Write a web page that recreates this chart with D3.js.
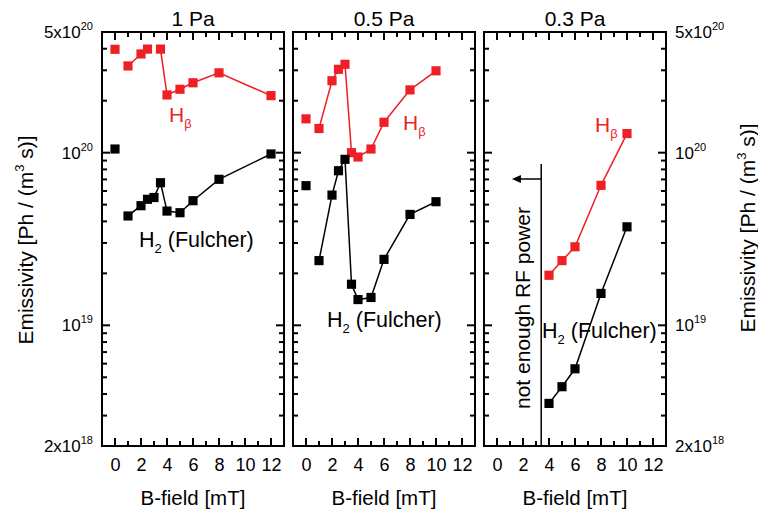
<!DOCTYPE html>
<html><head><meta charset="utf-8">
<script src="https://cdn.jsdelivr.net/npm/d3@7"></script>
<style>
body{margin:0;background:#fff}
svg text{font-family:"Liberation Sans",Arial,Helvetica,sans-serif;fill:#000}
</style>
</head><body>
<svg id="chart" width="758" height="515"></svg>
<script>
// ---- data ----
const panelTitles = ["1 Pa", "0.5 Pa", "0.3 Pa"];

const bField1 = [0, 1, 2, 2.5, 3, 3.5, 4, 5, 6, 8, 12];
const hBeta1  = [3.97e20, 3.18e20, 3.73e20, 3.98e20, null, 3.98e20, 2.16e20, 2.33e20, 2.54e20, 2.90e20, 2.14e20];
const h2Ful1  = [1.05e20, 4.30e19, 4.93e19, 5.37e19, 5.50e19, 6.70e19, 4.59e19, 4.49e19, 5.27e19, 7.01e19, 9.83e19];

const bField2 = [0, 1, 2, 2.5, 3, 3.5, 4, 5, 6, 8, 10];
const hBeta2  = [1.57e20, 1.38e20, 2.61e20, 3.04e20, 3.25e20, 1.00e20, 9.44e19, 1.05e20, 1.50e20, 2.31e20, 2.98e20];
const h2Ful2  = [6.44e19, 2.37e19, 5.68e19, 7.86e19, 9.15e19, 1.73e19, 1.41e19, 1.45e19, 2.41e19, 4.39e19, 5.20e19];

const bField3 = [4, 5, 6, 8, 10];
const hBeta3  = [1.95e19, 2.37e19, 2.85e19, 6.47e19, 1.29e20];
const h2Ful3  = [3.53e18, 4.41e18, 5.60e18, 1.53e19, 3.72e19];

const xTickValues = [0, 2, 4, 6, 8, 10, 12];
const yTickValues = [5e20, 1e20, 1e19, 2e18];
const yTickMantissa = ["5x10", "10", "10", "2x10"];
const yTickExponent = ["20", "20", "19", "18"];

const rfLimitB = 3.4;      // "not enough RF power" boundary (mT)
const rfArrowTipB = 1.15;

// ---- layout ----
const RED = "#ee1f25";
const svg = d3.select("#chart");
const panelLeft = [102, 293, 484];
const panelW = 182, plotTop = 32, plotBottom = 446;

const y = d3.scaleLog().domain([2e18, 5e20]).range([plotBottom, plotTop]);

const series = [
  {b: bField1, hb: hBeta1, h2: h2Ful1},
  {b: bField2, hb: hBeta2, h2: h2Ful2},
  {b: bField3, hb: hBeta3, h2: h2Ful3}
];

const yMajor = [1e19, 1e20];
const yMinor = [];
[1e18, 1e19, 1e20].forEach(dec => {
  for (let k = 2; k <= 9; k++) { const v = k * dec; if (v > 2e18 && v < 5e20) yMinor.push(v); }
});
const xMinor = d3.range(0, 13).filter(v => v % 2 === 1);

const hbLabelPos = [[169, 122], [403, 130], [595, 132]];
const h2LabelPos = [[139, 247], [327, 327], [542, 338]];

const MAJ = 8, MIN = 5, TW = 2;

series.forEach((s, i) => {
  const left = panelLeft[i], right = left + panelW;
  const x = d3.scaleLinear().domain([-1, 13]).range([left, right]);
  const g = svg.append("g");

  g.append("g").attr("transform", `translate(0,${plotBottom})`)
    .call(d3.axisBottom(x).tickValues(xTickValues).tickSize(0).tickPadding(12).tickFormat(d3.format("d")))
    .call(a => { a.select(".domain").remove(); a.selectAll("line").remove(); })
    .call(a => a.selectAll("text").attr("font-size", 18).style("font-family", "Liberation Sans, Arial, sans-serif"));

  g.append("rect").attr("x", left).attr("y", plotTop).attr("width", panelW).attr("height", plotBottom - plotTop)
    .attr("fill", "none").attr("stroke", "#000").attr("stroke-width", 2);

  // inward ticks on all four sides, drawn as small filled bars
  const xt = xTickValues.map(v => ({v, L: MAJ})).concat(xMinor.map(v => ({v, L: MIN})));
  const yt = yMajor.map(v => ({v, L: MAJ})).concat(yMinor.map(v => ({v, L: MIN})));
  const tg = g.append("g").attr("fill", "#000");
  tg.selectAll(null).data(xt).join("rect")
    .attr("x", d => x(d.v) - TW / 2).attr("y", d => plotBottom - d.L).attr("width", TW).attr("height", d => d.L);
  tg.selectAll(null).data(xt).join("rect")
    .attr("x", d => x(d.v) - TW / 2).attr("y", plotTop).attr("width", TW).attr("height", d => d.L);
  tg.selectAll(null).data(yt).join("rect")
    .attr("x", left).attr("y", d => y(d.v) - TW / 2).attr("width", d => d.L).attr("height", TW);
  tg.selectAll(null).data(yt).join("rect")
    .attr("x", d => right - d.L).attr("y", d => y(d.v) - TW / 2).attr("width", d => d.L).attr("height", TW);

  g.append("text").attr("x", left + panelW / 2).attr("y", 26).attr("text-anchor", "middle")
    .attr("font-size", 21).text(panelTitles[i]);
  g.append("text").attr("x", left + panelW / 2).attr("y", 505).attr("text-anchor", "middle")
    .attr("font-size", 20.5).text("B-field [mT]");

  const pts = (vals) => s.b.map((b, j) => ({b, v: vals[j]}));
  const line = d3.line().defined(d => d.v != null && d.b > 0).x(d => x(d.b)).y(d => y(d.v));
  const sym = d3.symbol(d3.symbolSquare, 84);
  [[s.hb, RED], [s.h2, "#000"]].forEach(([vals, color]) => {
    const data = pts(vals);
    g.append("path").attr("d", line(data)).attr("fill", "none").attr("stroke", color).attr("stroke-width", 1.5);
    g.selectAll(null).data(data.filter(d => d.v != null)).join("path")
      .attr("transform", d => `translate(${x(d.b)},${y(d.v)})`)
      .attr("d", sym).attr("fill", color);
  });

  const hb = g.append("text").attr("x", hbLabelPos[i][0]).attr("y", hbLabelPos[i][1])
    .attr("font-size", 21).style("fill", RED);
  hb.append("tspan").text("H");
  hb.append("tspan").attr("font-size", 13).attr("dy", 6).text("β");
  const h2 = g.append("text").attr("x", h2LabelPos[i][0]).attr("y", h2LabelPos[i][1]).attr("font-size", 21.5);
  h2.append("tspan").text("H");
  h2.append("tspan").attr("font-size", 13).attr("dy", 6).text("2");
  h2.append("tspan").attr("dy", -6).text(" (Fulcher)");

  if (i === 2) {
    const xl = x(rfLimitB), ay = 179, tip = x(rfArrowTipB);
    g.append("line").attr("x1", xl).attr("x2", xl).attr("y1", 164).attr("y2", plotBottom)
      .attr("stroke", "#000").attr("stroke-width", 1.5);
    g.append("line").attr("x1", xl).attr("x2", tip + 7).attr("y1", ay).attr("y2", ay)
      .attr("stroke", "#000").attr("stroke-width", 1.5);
    g.append("path").attr("d", `M${tip},${ay} L${tip + 9},${ay - 4} L${tip + 9},${ay + 4} Z`).attr("fill", "#000");
    g.append("text").attr("transform", `translate(530,308) rotate(-90)`).attr("text-anchor", "middle")
      .attr("font-size", 21).text("not enough RF power");
  }
});

const yLab = (xpos, anchor) => {
  yTickValues.forEach((v, k) => {
    const t = svg.append("text").attr("x", xpos).attr("y", y(v) + 6).attr("text-anchor", anchor).attr("font-size", 17);
    t.append("tspan").text(yTickMantissa[k]);
    t.append("tspan").attr("font-size", 11).attr("dy", -8).text(yTickExponent[k]);
  });
};
yLab(93, "end");
yLab(675, "start");

const yTitle = (tx, ty) => {
  const t = svg.append("text").attr("transform", `translate(${tx},${ty}) rotate(-90)`)
    .attr("text-anchor", "middle").attr("font-size", 21);
  t.append("tspan").text("Emissivity [Ph / (m");
  t.append("tspan").attr("font-size", 13).attr("dy", -9).text("3");
  t.append("tspan").attr("dy", 9).text(" s)]");
};
yTitle(33, 240);
yTitle(755, 228);
</script>
</body></html>
